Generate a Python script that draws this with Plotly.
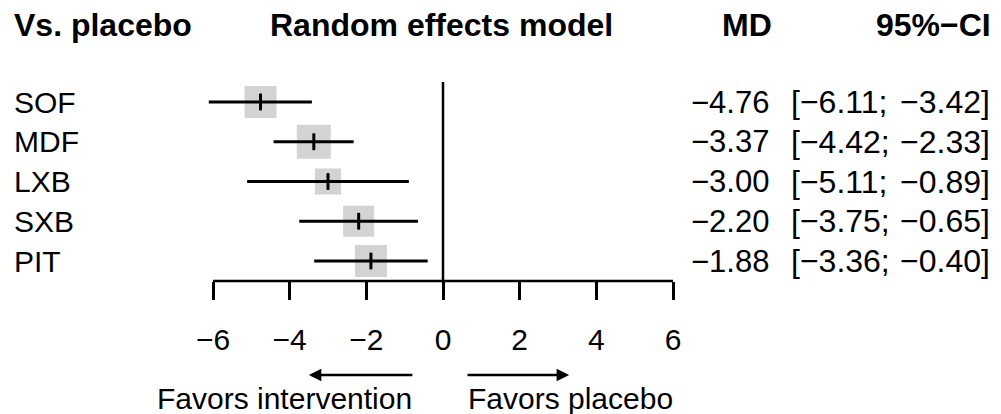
import plotly.graph_objects as go

# ---- data ----
studies = ["SOF", "MDF", "LXB", "SXB", "PIT"]
md = [-4.76, -3.37, -3.00, -2.20, -1.88]
ci_lo = [-6.11, -4.42, -5.11, -3.75, -3.36]
ci_hi = [-3.42, -2.33, -0.89, -0.65, -0.40]
tick_vals = [-6, -4, -2, 0, 2, 4, 6]
tick_text = ["\u22126", "\u22124", "\u22122", "0", "2", "4", "6"]

# ---- styles ----
W, H = 1001, 414
FONT = "Liberation Sans, Arial, sans-serif"
FS = 30
FS_R = 31
FS_CI = 32
FS_H = 32
box_px = [32, 34, 26, 31, 32]
GRAY = "rgb(192,192,192)"

# pixel helpers for layout (row i at pixel 102 + 39.75*i)
ROW0, ROWSTEP = 102.0, 39.75
def ypix(p):
    return (p - ROW0) / ROWSTEP
y_top, y_bot = ypix(0), ypix(H)

# x: -6 -> 213px, 6 -> 673px
PXU = (673 - 213) / 12.0
XR = 6.6
dom = [(213 - 0.6 * PXU) / W, (673 + 0.6 * PXU) / W]

rows = list(range(len(studies)))

def fmt(v):
    return f"{v:.2f}".replace("-", "\u2212")

fig = go.Figure()
fig.add_trace(go.Scatter(
    x=md, y=rows, mode="markers",
    marker=dict(symbol="square", size=box_px, color=GRAY, line=dict(width=0)),
    hoverinfo="skip", showlegend=False))
fig.add_trace(go.Scatter(
    x=md, y=rows, mode="markers",
    marker=dict(symbol="line-ns", size=12, line=dict(width=3, color="black")),
    error_x=dict(type="data", symmetric=False,
                 array=[h - m for h, m in zip(ci_hi, md)],
                 arrayminus=[m - l for m, l in zip(md, ci_lo)],
                 width=0, thickness=3, color="black"),
    hoverinfo="skip", showlegend=False))

axis_y = ypix(281)
shapes = [
    dict(type="line", x0=0, x1=0, y0=ypix(82), y1=axis_y, xref="x", yref="y",
         line=dict(color="black", width=2.5)),
    dict(type="line", x0=tick_vals[0], x1=tick_vals[-1], y0=axis_y, y1=axis_y,
         xref="x", yref="y", line=dict(color="black", width=2.5)),
]

ann = []
# headers
hdr_y = 1 - 25 / H
def hdr(text, xpx, anchor):
    ann.append(dict(text=f"<b>{text}</b>", x=xpx / W, y=hdr_y, xref="paper", yref="paper",
                    xanchor=anchor, yanchor="middle", showarrow=False,
                    font=dict(family=FONT, size=FS_H, color="black")))
hdr("Vs. placebo", 12, "left")
hdr("Random effects model", 268, "left")
hdr("MD", 774, "right")
hdr("95%\u2212CI", 993, "right")

for i, s in enumerate(studies):
    ann.append(dict(text=s, x=12 / W, y=i, xref="paper", yref="y", xanchor="left",
                    yanchor="middle", showarrow=False, font=dict(family=FONT, size=FS, color="black")))
    ann.append(dict(text=fmt(md[i]), x=771 / W, y=i, xref="paper", yref="y", xanchor="right",
                    yanchor="middle", showarrow=False, font=dict(family=FONT, size=FS_R, color="black")))
    ann.append(dict(text=f"[{fmt(ci_lo[i])};", x=789 / W, y=i, xref="paper", yref="y",
                    xanchor="left", yanchor="middle", showarrow=False,
                    font=dict(family=FONT, size=FS_CI, color="black")))
    ann.append(dict(text=f"{fmt(ci_hi[i])}]", x=992 / W, y=i, xref="paper", yref="y",
                    xanchor="right", yanchor="middle", showarrow=False,
                    font=dict(family=FONT, size=FS_CI, color="black")))

# arrows
arr_y = ypix(375)
ann.append(dict(x=-3.5, y=arr_y, ax=-0.76, ay=arr_y, xref="x", yref="y", axref="x", ayref="y",
                text="", showarrow=True, arrowhead=2, arrowsize=1, arrowwidth=2.5, arrowcolor="black"))
ann.append(dict(x=3.29, y=arr_y, ax=0.6, ay=arr_y, xref="x", yref="y", axref="x", ayref="y",
                text="", showarrow=True, arrowhead=2, arrowsize=1, arrowwidth=2.5, arrowcolor="black"))
txt_y = ypix(398)
ann.append(dict(text="Favors intervention", x=-0.76, y=txt_y, xref="x", yref="y", xanchor="right",
                yanchor="middle", showarrow=False, font=dict(family=FONT, size=FS, color="black")))
ann.append(dict(text="Favors placebo", x=0.6, y=txt_y, xref="x", yref="y", xanchor="left",
                yanchor="middle", showarrow=False, font=dict(family=FONT, size=FS, color="black")))

fig.update_layout(
    width=W, height=H, margin=dict(l=0, r=0, t=0, b=0),
    paper_bgcolor="white", plot_bgcolor="white",
    xaxis=dict(domain=dom, range=[-XR, XR], anchor="free", position=1 - 281 / H,
               tickmode="array", tickvals=tick_vals, ticktext=tick_text,
               ticks="outside", ticklen=18, tickwidth=2.5, tickcolor="black",
               showline=False, showgrid=False, zeroline=False,
               tickfont=dict(family=FONT, size=FS, color="black"), ticklabelstandoff=14),
    yaxis=dict(domain=[0, 1], range=[y_bot, y_top], visible=False, showgrid=False, zeroline=False),
    shapes=shapes, annotations=ann,
)

fig.write_html("out.html")
